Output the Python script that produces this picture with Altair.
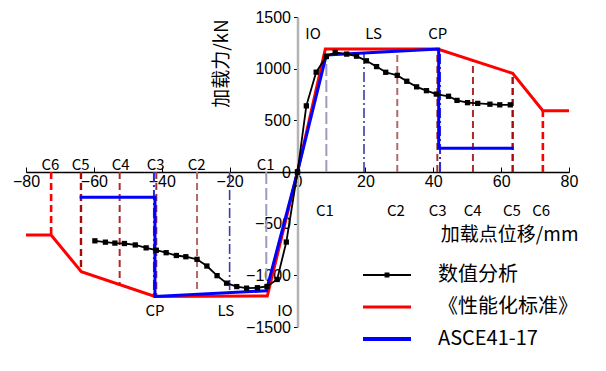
import altair as alt
import pandas as pd

# ---------------- data ----------------
num_pos_x = [0, 2.6, 5.5, 8.5, 11.1, 14.5, 17.4, 20.3, 23.3, 26.0, 29.4, 32.2, 35.1, 38.0, 40.9,
             44.5, 47.0, 50.1, 53.1, 56.7, 59.6, 62.7]
num_pos_y = [0, 640, 966, 1118, 1157, 1141, 1121, 1076, 1020, 965, 935, 878, 824, 787, 754,
             733, 693, 671, 664, 656, 650, 650]
num_neg_x = [0, -3.3, -6.0, -9.0, -11.8, -15.0, -17.9, -20.9, -23.7, -26.7, -29.6, -32.9, -35.7,
             -38.7, -41.6, -44.6, -47.8, -51.0, -53.8, -56.6, -59.7]
num_neg_y = [0, -678, -1040, -1108, -1120, -1124, -1109, -1076, -1003, -910, -845, -820, -808,
             -781, -757, -734, -706, -692, -688, -679, -666]

red_pos_x = [0, 8.2, 41.3, 63.4, 72.3, 80]
red_pos_y = [0, 1190, 1190, 955, 593, 593]
red_neg_x = [0, -8.9, -42.0, -63.7, -72.6, -80]
red_neg_y = [0, -1200, -1205, -965, -610, -610]

blue_pos_x = [0, 8.5, 41.6, 41.6, 63.7]
blue_pos_y = [0, 1133, 1190, 230, 230]
blue_neg_x = [0, -9.2, -42.0, -42.0, -64.2]
blue_neg_y = [0, -1150, -1205, -245, -245]

ref_x = [8.5, 19.6, 29.4, 41.2, 42.0, 51.7, 63.4, 72.3,
         -9.2, -20.0, -29.6, -41.6, -42.3, -52.4, -63.8, -72.6]
ref_top = [1125, 1150, 1190, 1190, 1190, 1080, 955, 593,
           -1140, -1150, -1180, -1205, -1205, -1090, -965, -610]
ref_kind = ["IO", "LS", "C2", "C3", "CP", "C4", "C5", "C6",
            "IO", "LS", "C2", "C3", "CP", "C4", "C5", "C6"]

lvl_text = ["IO", "LS", "CP", "CP", "LS", "IO"]
lvl_x = [4.6, 22.4, 41.3, -42.0, -21.1, -3.7]
lvl_y = [1340, 1340, 1340, -1345, -1345, -1345]

c_text = ["C1", "C2", "C3", "C4", "C5", "C6", "C1", "C2", "C3", "C4", "C5", "C6"]
c_x = [8.1, 29.0, 41.3, 51.6, 63.2, 71.8, -9.4, -29.7, -41.8, -52.1, -63.9, -72.8]
c_y = [-375, -375, -375, -375, -375, -375, 68, 68, 68, 68, 68, 68]

x_ticks = [-80, -60, -40, -20, 0, 20, 40, 60, 80]
y_ticks = [-1500, -1000, -500, 0, 500, 1000, 1500]

leg_names = ["数值分析", "《性能化标准》", "ASCE41-17"]

# ---------------- styles ----------------
leg_colors = ["#000000", "#ff0000", "#0000ff"]
leg_shapes = ["M-1,0H1M-0.06,-0.06H0.06V0.06H-0.06Z", "M-1,0H1", "M-1,0H1"]
leg_widths = [2, 4, 4]
ref_style = {
    "IO": ("#9c9cbc", [12, 4], 2),
    "LS": ("#3c3cae", [10, 3, 2, 3], 1.6),
    "C2": ("#b06a6a", [7, 4], 2),
    "C3": ("#a03434", [7, 4], 2),
    "CP": ("#2a2ad0", [10, 3, 2, 3], 2),
    "C4": ("#ac2a2a", [7, 4], 2),
    "C5": ("#a80a0a", [7, 4], 2.4),
    "C6": ("#ff0000", [7, 4], 2.6),
}

W, H = 543, 310
XS = alt.Scale(domain=[-80, 80], nice=False, zero=False)
YS = alt.Scale(domain=[-1500, 1500], nice=False, zero=False)
CJK = "Noto Sans CJK SC"

xaxis = alt.Axis(orient="top", offset=-H / 2, values=x_ticks, format="d", tickSize=5,
                 tickColor="black", tickWidth=1, domainColor="black", domainWidth=1.5,
                 labelBaseline="top", labelPadding=-6, labelFont="Liberation Sans",
                 labelFontSize=16, labelColor="black", labelFlush=False, labelOverlap=False,
                 grid=False, title="加载点位移/mm", titleFont=CJK, titleFontSize=19,
                 titleFontWeight="normal", titleColor="black", titleX=552, titleY=62,
                 titleAlign="right", titleBaseline="middle", zindex=0)
yaxis = alt.Axis(orient="left", offset=-W / 2, values=y_ticks, format="d", tickSize=4,
                 tickColor="black", tickWidth=1, domainColor="#b4b4b4", domainWidth=2.5,
                 labelPadding=3, labelFont="Liberation Sans", labelFontSize=16,
                 labelColor="black", labelFlush=False, labelOverlap=False, grid=False,
                 title="加载力/kN", titleFont=CJK, titleFontSize=19, titleFontWeight="normal",
                 titleColor="black", titleX=-76, titleY=46, titleAngle=270,
                 titleAlign="center", titleBaseline="middle", zindex=0)


def X(f):
    return alt.X(f, type="quantitative", scale=XS, axis=xaxis)


def Y(f):
    return alt.Y(f, type="quantitative", scale=YS, axis=yaxis)


ref_df = pd.DataFrame({"x": ref_x, "top": ref_top, "kind": ref_kind, "zero": 0})
layers = []
for kind in ["C2", "C3", "C4", "C5", "C6", "CP", "IO", "LS"]:
    col, dash, sw = ref_style[kind]
    sub = ref_df[ref_df["kind"] == kind]
    layers.append(
        alt.Chart(sub).mark_rule(color=col, strokeDash=dash, strokeWidth=sw).encode(
            x=X("x"), y=Y("zero"), y2="top"
        )
    )


def line_df(xs, ys, branch):
    return pd.DataFrame({"x": xs, "y": ys, "i": list(range(len(xs))), "b": branch})


red_df = pd.concat([line_df(red_pos_x, red_pos_y, "p"), line_df(red_neg_x, red_neg_y, "n")])
blue_df = pd.concat([line_df(blue_pos_x, blue_pos_y, "p"), line_df(blue_neg_x, blue_neg_y, "n")])
num_df = pd.concat([line_df(num_pos_x, num_pos_y, "p"), line_df(num_neg_x, num_neg_y, "n")])

layers.append(alt.Chart(red_df).mark_line(color="#ff0000", strokeWidth=3).encode(
    x=X("x"), y=Y("y"), detail="b:N", order="i:Q"))
layers.append(alt.Chart(blue_df).mark_line(color="#0000ff", strokeWidth=3).encode(
    x=X("x"), y=Y("y"), detail="b:N", order="i:Q"))
layers.append(alt.Chart(num_df).mark_line(color="black", strokeWidth=1.8).encode(
    x=X("x"), y=Y("y"), detail="b:N", order="i:Q"))
layers.append(alt.Chart(num_df).mark_point(shape="square", filled=True, color="black",
                                           size=28, opacity=1).encode(x=X("x"), y=Y("y")))

lvl_df = pd.DataFrame({"x": lvl_x, "y": lvl_y, "t": lvl_text})
c_df = pd.DataFrame({"x": c_x, "y": c_y, "t": c_text})
for df in (lvl_df, c_df):
    layers.append(alt.Chart(df).mark_text(font=CJK, fontSize=15, color="black", align="center",
                                          baseline="middle").encode(x=X("x"), y=Y("y"), text="t:N"))

leg_df = pd.DataFrame({"series": leg_names, "x": [0, 0, 0], "y": [0, 0, 0]})
legend = alt.Legend(orient="none", legendX=335, legendY=243, title=None, symbolSize=2304,
                    labelOffset=25, labelFont=CJK, labelFontSize=20, labelColor="black",
                    clipHeight=30, rowPadding=2, padding=0, labelLimit=400)
layers.append(
    alt.Chart(leg_df).transform_filter("false").mark_point(filled=False, opacity=1).encode(
        x=X("x"), y=Y("y"),
        color=alt.Color("series:N", scale=alt.Scale(domain=leg_names, range=leg_colors),
                        legend=legend),
        shape=alt.Shape("series:N", scale=alt.Scale(domain=leg_names, range=leg_shapes),
                        legend=legend),
        strokeWidth=alt.StrokeWidth("series:N",
                                    scale=alt.Scale(domain=leg_names, range=leg_widths),
                                    legend=legend),
    )
)

chart = alt.layer(*layers).properties(
    width=W, height=H,
    autosize=alt.AutoSizeParams(type="none"),
    padding={"left": 18, "top": 9, "right": 20, "bottom": 36},
    background="white",
).configure_view(stroke=None)

chart.save("out.html", embed_options={"renderer": "svg", "actions": False})
